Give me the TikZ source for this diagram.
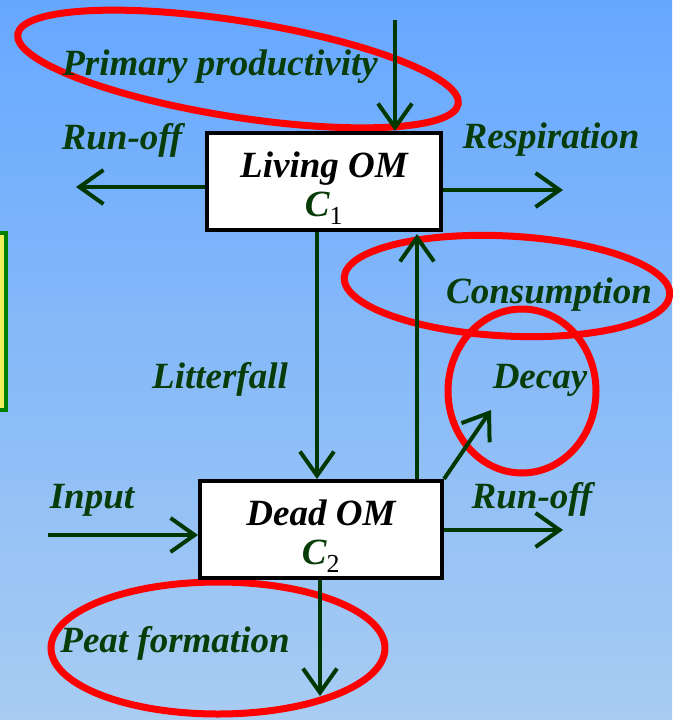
\documentclass[tikz,border=0pt]{standalone}
\usepackage{fontspec}
\setmainfont{Liberation Serif}
\usepackage{xcolor}
\usepackage{tikz}
\usetikzlibrary{calc, arrows.meta}
\pgfdeclarelayer{background}
\pgfsetlayers{background,main}
\definecolor{flowgreen}{RGB}{0,56,0}
\definecolor{labelgreen}{RGB}{8,60,8}
\definecolor{skytop}{RGB}{102,168,255}
\definecolor{skybottom}{RGB}{168,204,242}
\newcommand{\bigtext}{\fontsize{37}{42}\selectfont\bfseries\itshape}
\newcommand{\poolC}[1]{\textcolor{labelgreen}{C}{\normalfont\textsubscript{#1}}}
\tikzstyle{pool}   = [rectangle, draw=black, line width=4pt, fill=white, align=center, font=\bigtext, minimum height=97pt, inner sep=0pt]
\tikzstyle{flow}   = [draw=flowgreen, line width=4pt, -{Straight Barb[length=24pt,width=34pt]}]
\tikzstyle{lbl}    = [text=labelgreen, font=\bigtext, anchor=base, inner sep=0pt]
\tikzstyle{hilite} = [draw=red, line width=7pt]

\begin{document}
\begin{tikzpicture}[x=1pt, y=-1pt]
    \useasboundingbox (0,0) rectangle (672,720);

    \node (living) [pool, minimum width=234pt] at (324,181.5) {\rule{0pt}{39pt}Living OM\\[-3pt] \poolC{1}};
    \node (dead)   [pool, minimum width=242pt] at (321,529.5) {\rule{0pt}{39pt}Dead OM\\[-3pt] \poolC{2}};

    % free ends
    \coordinate (pp)    at (395,20);
    \coordinate (ro1)   at (76,187);
    \coordinate (resp)  at (563,190);
    \coordinate (cons)  at (417,0);
    \coordinate (decay) at (491,410);
    \coordinate (in)    at (48,535);
    \coordinate (ro2)   at (563,530);
    \coordinate (peat)  at (320,696);

    % arrows
    \draw [flow] (pp) -- (pp |- living.north);
    \draw [flow] (ro1 -| living.west) -- (ro1);
    \draw [flow] (resp -| living.east) -- (resp);
    \draw [flow] ([xshift=-7pt]living.south) -- ([xshift=-4pt]dead.north);
    \draw [flow] (cons |- dead.north) -- ($(cons |- living.south)+(0,2)$);
    \draw [flow] (dead.north east) -- (decay);
    \draw [flow] (in) -- (in -| dead.west);
    \draw [flow] (ro2 -| dead.east) -- (ro2);
    \draw [flow] (peat |- dead.south) -- (peat);

    % labels
    \node (lpp)    [lbl] at (220,75)  {Primary productivity};
    \node (lro1)   [lbl] at (122,149) {Run-off};
    \node (lresp)  [lbl] at (551,148) {Respiration};
    \node (lcons)  [lbl] at (549,303) {Consumption};
    \node (llit)   [lbl] at (220,388) {Litterfall};
    \node (ldecay) [lbl] at (540,388) {Decay};
    \node (lin)    [lbl] at (92,508)  {Input};
    \node (lro2)   [lbl] at (532,508) {Run-off};
    \node (lpeat)  [lbl] at (175,652) {Peat formation};

    \begin{pgfonlayer}{background}
      \fill [top color=skytop, bottom color=skybottom] (0,0) rectangle (672,720);
      \draw [draw=green!50!black, line width=4pt, fill={rgb,255:red,240;green,240;blue,90}] (-10,233) rectangle (6,410);
      % highlights
      \draw [hilite, rotate around={-9:(238,69)}] (238,69) ellipse [x radius=223, y radius=48];
      \draw [hilite, rotate around={-3:(507,286)}] (507,286) ellipse [x radius=163, y radius=50];
      \draw [hilite] (522,391) ellipse [x radius=74, y radius=82];
      \draw [hilite] (218,648) ellipse [x radius=167, y radius=66];
    \end{pgfonlayer}
\end{tikzpicture}
\end{document}
